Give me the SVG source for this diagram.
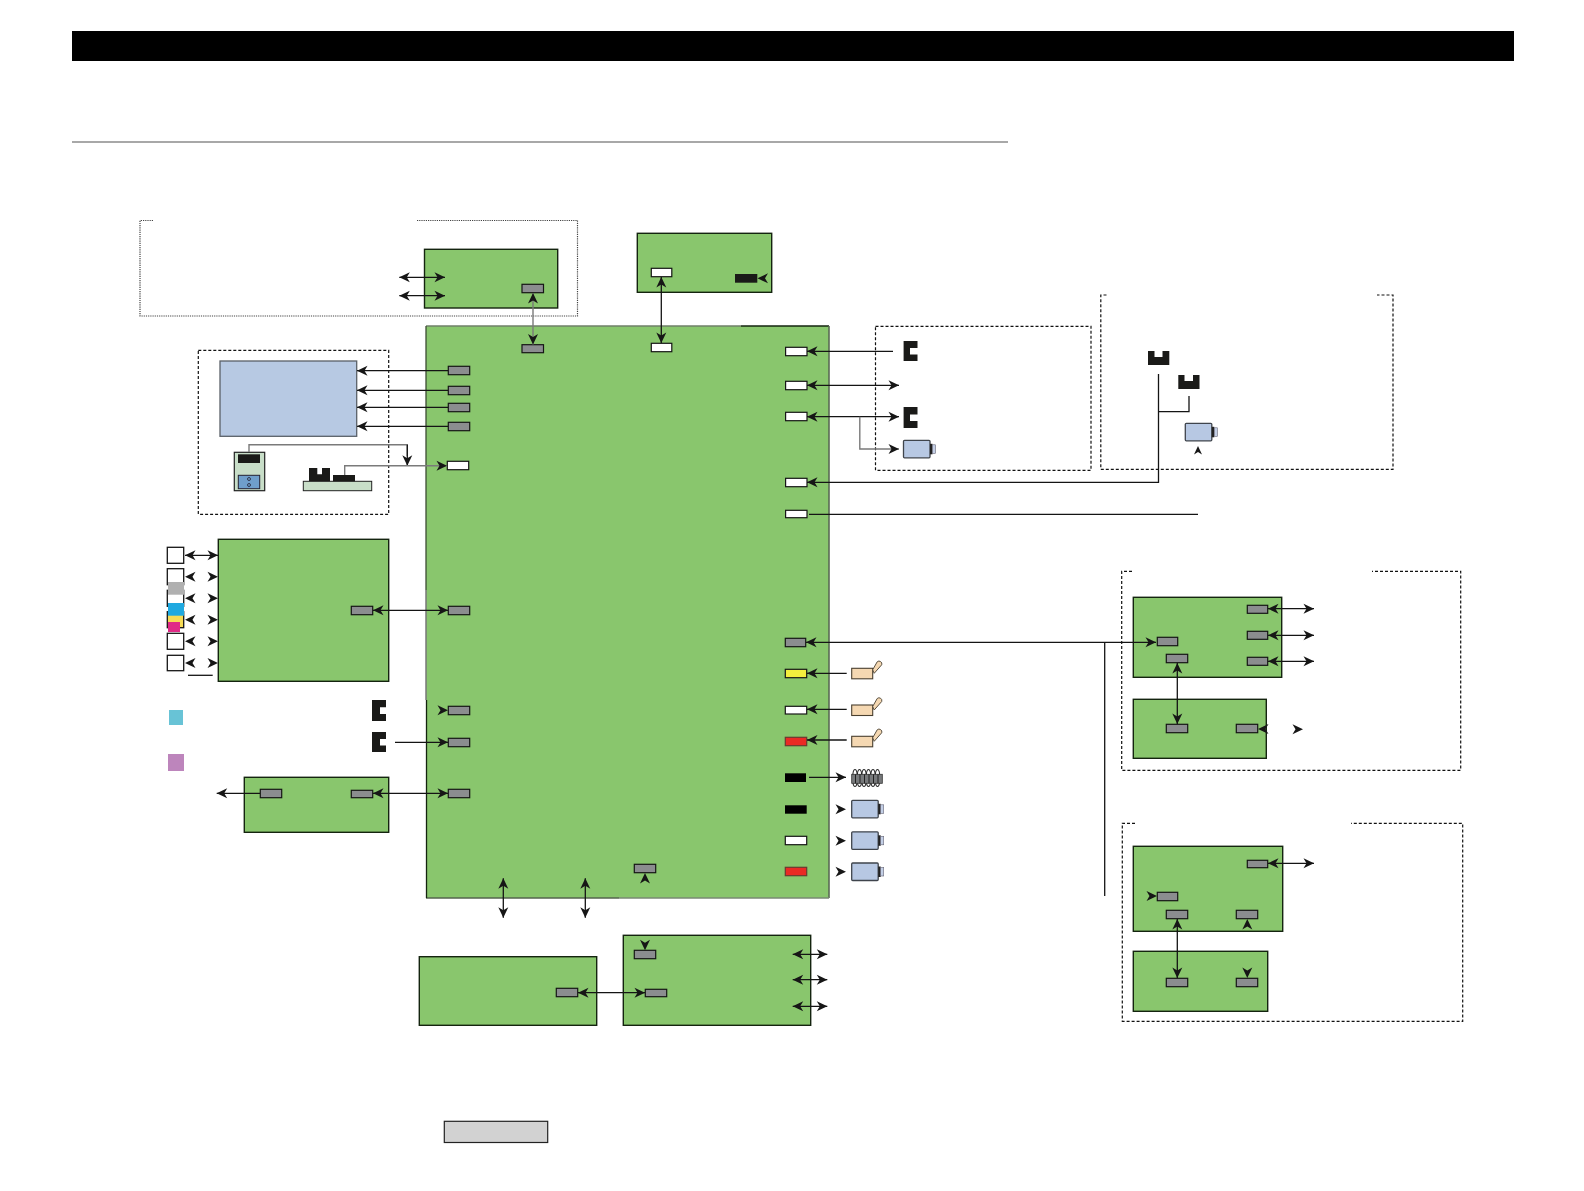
<svg xmlns="http://www.w3.org/2000/svg" width="1584" height="1191" viewBox="0 0 1584 1191">
<style>
.b{fill:#89c66d;stroke:#14240f;stroke-width:1.4}
.p{fill:#8b8d8f;stroke:#161616;stroke-width:1.2}
.w{fill:#fff;stroke:#161616;stroke-width:1.2}
.y{fill:#f3ee3e;stroke:#161616;stroke-width:1.2}
.r{fill:#ea2a24;stroke:#6a3a30;stroke-width:1.2}
.k{fill:#000}
.s{fill:#1a1a18}
.d{fill:none;stroke:#111;stroke-width:1.2;stroke-dasharray:3 2}
.t{fill:none;stroke:#444;stroke-width:1.2;stroke-dasharray:1.2 1}
.l{fill:none;stroke:#141414;stroke-width:1.3}
.g{fill:none;stroke:#7a7a7a;stroke-width:1.4}
.e{marker-end:url(#a)}
.x{marker-end:url(#a);marker-start:url(#a)}
.sq{fill:#fff;stroke:#161616;stroke-width:1.3}
.sw{fill:#f5d8b2;stroke:#4a4030;stroke-width:1.1}
.lv{fill:#f5d8b2;stroke:#5a5040;stroke-width:1}
.m{fill:#b7c8e3;stroke:#3f444c;stroke-width:1.300}
</style>
<defs>
<marker id="a" viewBox="-11 -5.500 11.500 11" refX="0" refY="0" markerWidth="11.500" markerHeight="11" markerUnits="userSpaceOnUse" orient="auto-start-reverse"><path d="M0 0L-10.500 -5L-7.500 0L-10.500 5Z" fill="#161616"/></marker>
<path id="h" d="M0 0L-10.500 -5L-7.500 0L-10.500 5Z" fill="#161616"/>
<g id="mot"><rect class="m" x="0" y="0" width="26.500" height="17.500" rx="1"/><rect x="26.500" y="3.500" width="2.500" height="10.500" fill="#222"/><rect x="29" y="4.500" width="3" height="8.500" fill="#c3cfe6" stroke="#667" stroke-width=".6"/></g>
<g id="swi"><rect class="sw" x="0" y="0" width="21" height="10.500"/><path class="lv" d="M21 1.500L25.500 -6.500A2.800 2.800 0 0 1 30 -3.500L22.500 5Z"/></g>
</defs>

<g id="header"><rect x="72" y="31" width="1442" height="30" fill="#000"/><rect x="72" y="141" width="936" height="2" fill="#a8a8a8"/></g>

<g id="frames">
<path class="t" d="M153 220.500H140V316H577.500V220.500H416"/>
<path class="d" d="M198.300 350.300H388.700V514.300H198.300Z"/>
<path class="d" d="M875.500 326.300H1091V470.300H875.500Z"/>
<path class="d" d="M1106.500 295H1100.800V469.300H1393V295H1377"/>
<path class="d" d="M1132 571.300H1121.700V770.300H1460.700V571.300H1372"/>
<path class="d" d="M1135 823.300H1122.300V1021.300H1462.700V823.300H1351"/>
</g>

<g id="main-board">
<rect x="426" y="326" width="403" height="572" fill="#89c66d"/>
<path fill="none" stroke="#6f7f68" stroke-width="1.4" d="M426 326H741"/>
<path fill="none" stroke="#14240f" stroke-width="1.4" d="M741 326H829"/>
<path fill="none" stroke="#5a6a54" stroke-width="1.6" d="M829 326V898"/>
<path fill="none" stroke="#55644e" stroke-width="1.6" d="M426 898H619"/>
<path fill="none" stroke="#7a8a74" stroke-width="1.3" d="M619 898H829"/>
<path fill="none" stroke="#3c4c34" stroke-width="1.3" d="M426 326V590"/>
<path fill="none" stroke="#777" stroke-width="1.500" d="M426 590V700"/>
<path fill="none" stroke="#14240f" stroke-width="1.3" d="M426.500 700V898"/>
<rect class="p" x="522" y="344.700" width="21.500" height="8"/>
<rect class="w" x="651.300" y="343.300" width="20.500" height="8.400"/>
<rect class="p" x="448.300" y="366.300" width="21.400" height="8.400"/>
<rect class="p" x="448.300" y="386.300" width="21.400" height="8.400"/>
<rect class="p" x="448.300" y="403.300" width="21.400" height="8.400"/>
<rect class="p" x="448.300" y="422.300" width="21.400" height="8.400"/>
<rect class="w" x="447.300" y="461.300" width="21.400" height="8.400"/>
<rect class="p" x="448.300" y="606.300" width="21.400" height="8.400"/>
<rect class="p" x="448.300" y="706.300" width="21.400" height="8.400"/>
<rect class="p" x="448.300" y="738.300" width="21.400" height="8.400"/>
<rect class="p" x="448.300" y="789.300" width="21.400" height="8.400"/>
<rect class="p" x="634.300" y="864.300" width="21.400" height="8.400"/>
<rect class="w" x="785.600" y="347.300" width="21.400" height="8.400"/>
<rect class="w" x="785.600" y="381.300" width="21.400" height="8.400"/>
<rect class="w" x="785.600" y="412.300" width="21.400" height="8.400"/>
<rect class="w" x="785.600" y="478.300" width="21.400" height="8.400"/>
<rect class="w" x="785.600" y="510.300" width="21.400" height="7.400"/>
<rect class="p" x="785.300" y="638.300" width="20.400" height="8.400"/>
<rect class="y" x="785.300" y="669.300" width="21.400" height="8.400"/>
<rect class="w" x="785.300" y="706.300" width="21.400" height="7.700"/>
<rect class="r" x="785.300" y="737.300" width="21.400" height="8.400"/>
<rect class="k" x="785" y="773.300" width="21" height="8.700"/>
<rect class="k" x="785" y="805.300" width="21.700" height="8.400"/>
<rect class="w" x="785.300" y="836.300" width="21.400" height="8.400"/>
<rect class="r" x="785.300" y="867.300" width="21.400" height="8.400"/>
</g>

<g id="board-top-left"><rect class="b" x="424.500" y="249.300" width="133.200" height="58.700"/><rect class="p" x="522" y="284.300" width="21.500" height="8.400"/></g>
<g id="board-top"><rect class="b" x="637.300" y="233.300" width="134.400" height="59"/><rect class="w" x="651.300" y="268.300" width="20.500" height="8.400"/><rect class="s" x="735" y="274" width="22.300" height="8.700"/></g>
<g id="board-left"><rect class="b" x="218.300" y="539.300" width="170.400" height="142"/><rect class="p" x="351.300" y="606.300" width="21.400" height="8.400"/></g>
<g id="board-lower-left"><rect class="b" x="244.300" y="777.300" width="144.400" height="55"/><rect class="p" x="260.300" y="789.300" width="21.400" height="8.400"/><rect class="p" x="351.300" y="790.300" width="21.400" height="7.400"/></g>
<g id="board-bottom-left"><rect class="b" x="419.300" y="956.700" width="177.400" height="68.600"/><rect class="p" x="556.300" y="988.300" width="21.400" height="8.400"/></g>
<g id="board-bottom-right"><rect class="b" x="623.300" y="935.300" width="187.400" height="90"/><rect class="p" x="634.300" y="950.300" width="21.400" height="8.400"/><rect class="p" x="645.300" y="989.300" width="21.400" height="7.400"/></g>
<g id="board-r1"><rect class="b" x="1133.300" y="597.300" width="148.400" height="80"/><rect class="p" x="1247.300" y="605.300" width="20.400" height="8"/><rect class="p" x="1247.300" y="631.300" width="20.400" height="8"/><rect class="p" x="1247.300" y="657.300" width="20.400" height="8"/><rect class="p" x="1157.300" y="637.300" width="20.400" height="8.400"/><rect class="p" x="1166.300" y="654.300" width="21.400" height="8.400"/></g>
<g id="board-r2"><rect class="b" x="1133.300" y="699.300" width="133" height="59"/><rect class="p" x="1166.300" y="724.300" width="21.400" height="8.400"/><rect class="p" x="1236.300" y="724.300" width="21.400" height="8.400"/></g>
<g id="board-r3"><rect class="b" x="1133.300" y="846.300" width="149.400" height="85"/><rect class="p" x="1247.300" y="860.300" width="20.400" height="7.400"/><rect class="p" x="1157.300" y="892.300" width="20.400" height="8.400"/><rect class="p" x="1166.300" y="910.300" width="21.400" height="8.400"/><rect class="p" x="1236.300" y="910.300" width="21.400" height="8.400"/></g>
<g id="board-r4"><rect class="b" x="1133.300" y="951.300" width="134.400" height="60"/><rect class="p" x="1166.300" y="978.300" width="21.400" height="8.400"/><rect class="p" x="1236.300" y="978.300" width="21.400" height="8.400"/></g>

<g id="display"><rect x="220" y="361" width="136.700" height="75.300" fill="#b7c9e3" stroke="#5a6068" stroke-width="1.300"/></g>
<g id="panel"><rect x="234.300" y="452.300" width="30.400" height="38.400" fill="#c8dec8" stroke="#222" stroke-width="1.200"/><rect class="s" x="238" y="454.300" width="22" height="8.700"/><rect x="238.300" y="475.300" width="21.400" height="13.400" fill="#6f9fcb" stroke="#223" stroke-width="1"/><circle cx="249" cy="479" r="1.500" fill="none" stroke="#223" stroke-width=".8"/><circle cx="249" cy="485" r="1.500" fill="none" stroke="#223" stroke-width=".8"/></g>
<g id="sensor-base"><rect x="303.300" y="481.300" width="68.400" height="9.400" fill="#c8dec8" stroke="#222" stroke-width="1"/><path class="s" d="M309 468H317.300V474.300H322V468H330V481.300H309Z"/><rect class="s" x="333" y="475" width="22" height="6.300"/></g>

<g id="squares">
<rect class="sq" x="167.300" y="547.300" width="16.400" height="16"/>
<rect class="sq" x="167.300" y="568.700" width="16.400" height="16"/>
<rect class="sq" x="167.300" y="590.300" width="16.400" height="16"/>
<rect class="sq" x="167.300" y="611.700" width="16.400" height="16" style="fill:#f7dc55"/>
<rect class="sq" x="167.300" y="633.300" width="16.400" height="16"/>
<rect class="sq" x="167.300" y="655.300" width="16.400" height="15.400"/>
<rect x="168" y="582" width="16" height="12.700" fill="#b0b0b0"/>
<rect x="168" y="603" width="16" height="12.700" fill="#1fa9e0"/>
<rect x="168" y="622" width="12" height="10" fill="#e02a86"/>
<rect x="169" y="710" width="14" height="15" fill="#68c3d6"/>
<rect x="168" y="754" width="16" height="17" fill="#bd85bc"/>
</g>

<g id="sensors">
<path class="s" d="M372 700H386V707.300H380V714H386V721H372Z"/>
<path class="s" d="M372 732H386V739H380V745.500H386V752H372Z"/>
<path class="s" d="M903.600 341H917.500V348H910V354.500H917.500V361H903.600Z"/>
<path class="s" d="M903.600 407H917.500V414.500H910V421H917.500V428H903.600Z"/>
<path class="s" d="M1148 351H1154.500V357H1162.500V351H1169.300V365H1148Z"/>
<path class="s" d="M1178.300 375H1184.500V381H1193V375H1199.500V389H1178.300Z"/>
</g>

<g id="motors">
<use href="#mot" x="903.500" y="440.300"/>
<use href="#mot" x="1185.300" y="423.300"/>
<use href="#mot" x="851.700" y="800.300"/>
<use href="#mot" x="851.700" y="831.800"/>
<use href="#mot" x="851.700" y="863"/>
</g>
<g id="switches">
<use href="#swi" x="851.700" y="668.300"/>
<use href="#swi" x="851.700" y="705"/>
<use href="#swi" x="851.700" y="736.300"/>
</g>
<g id="coil">
<g fill="#fff" stroke="#222" stroke-width="1.100"><ellipse cx="855" cy="778" rx="2.300" ry="8.500"/><ellipse cx="859.500" cy="778" rx="2.300" ry="8.500"/><ellipse cx="864" cy="778" rx="2.300" ry="8.500"/><ellipse cx="868.500" cy="778" rx="2.300" ry="8.500"/><ellipse cx="873" cy="778" rx="2.300" ry="8.500"/><ellipse cx="877.500" cy="778" rx="2.300" ry="8.500"/></g>
<rect x="851.700" y="774.300" width="30.600" height="9" fill="#77797b" stroke="#333" stroke-width=".8"/>
<path d="M855.500 774.300V783.300M860 774.300V783.300M864.500 774.300V783.300M869 774.300V783.300M873.500 774.300V783.300M878 774.300V783.300" stroke="#222" stroke-width="1"/>
</g>
<g id="legend-box"><rect x="444.300" y="1121.300" width="103.400" height="21.200" fill="#d2d2d2" stroke="#222" stroke-width="1.200"/></g>

<g id="connectors">
<path class="l x" d="M399.300 277.300H445"/>
<path class="l x" d="M399.300 295.700H445"/>
<path class="g x" d="M533 293V344.500"/>
<path class="l x" d="M661.300 277V343"/>
<use href="#h" transform="translate(757.500 278.300) rotate(180)"/>
<path class="l e" d="M448 370.700H357"/>
<path class="l e" d="M448 390.300H357"/>
<path class="l e" d="M448 407.300H357"/>
<path class="l e" d="M448 426.300H357"/>
<path class="g" d="M249 452V444.700H407.300V456"/>
<path class="l e" d="M407.300 444.700V465.700"/>
<path class="g e" d="M344.700 475V465.700H447"/>
<path class="l x" d="M185 555.300H218"/>
<use href="#h" transform="translate(185 576.700) rotate(180)"/><use href="#h" transform="translate(218 576.700)"/>
<use href="#h" transform="translate(185 598.300) rotate(180)"/><use href="#h" transform="translate(218 598.300)"/>
<use href="#h" transform="translate(185 619.700) rotate(180)"/><use href="#h" transform="translate(218 619.700)"/>
<use href="#h" transform="translate(185 641.300) rotate(180)"/><use href="#h" transform="translate(218 641.300)"/>
<use href="#h" transform="translate(185 663) rotate(180)"/><use href="#h" transform="translate(218 663)"/>
<path class="l" d="M188 675.300H212.700"/>
<path class="l x" d="M373 610.300H448"/>
<use href="#h" transform="translate(448 710.300)"/>
<path class="l e" d="M395 742.300H448"/>
<path class="l x" d="M373 793.300H448"/>
<path class="l e" d="M260 793.300H216.700"/>
<path class="l e" d="M893 351.300H807"/>
<path class="l x" d="M807 385.300H899"/>
<path class="l x" d="M807 416.700H899"/>
<path class="g e" d="M859.800 416.700V449H899"/>
<path class="l e" d="M1158.500 374V482.300H807"/>
<path class="l" d="M1158.500 411.700H1189V396"/>
<use href="#h" transform="translate(1198 446) rotate(-90) scale(.8)"/>
<path class="l" d="M809 514.300H1198"/>
<path class="l x" d="M806 642.300H1156"/>
<path class="l" d="M1104.700 642.300V896"/>
<path class="l e" d="M846.700 673.300H807"/>
<path class="l e" d="M846.700 709.300H807"/>
<path class="l e" d="M846.700 740H807"/>
<path class="l e" d="M809 777.300H846"/>
<use href="#h" transform="translate(846 809.300)"/>
<use href="#h" transform="translate(846 840.700)"/>
<use href="#h" transform="translate(846 871.700)"/>
<path class="l x" d="M503.300 878.300V917.700"/>
<path class="l x" d="M585.300 878.300V917.700"/>
<use href="#h" transform="translate(645 873) rotate(-90)"/>
<use href="#h" transform="translate(645 950.300) rotate(90)"/>
<path class="l x" d="M578 992.700H645"/>
<path class="l x" d="M792.700 954.300H827.300"/>
<path class="l x" d="M792.700 979.700H827.300"/>
<path class="l x" d="M792.700 1006.300H827.300"/>
<path class="l x" d="M1268 608.700H1314"/>
<path class="l x" d="M1268 635.300H1314"/>
<path class="l x" d="M1268 661.300H1314"/>
<path class="l x" d="M1177.300 663V724"/>
<use href="#h" transform="translate(1258 729) rotate(180)"/>
<use href="#h" transform="translate(1303 729.300)"/>
<path class="l x" d="M1268 863.300H1314"/>
<use href="#h" transform="translate(1157 896)"/>
<path class="l x" d="M1177.300 919V978"/>
<use href="#h" transform="translate(1247.300 919) rotate(-90)"/>
<use href="#h" transform="translate(1247.300 978) rotate(90)"/>
</g>
</svg>
